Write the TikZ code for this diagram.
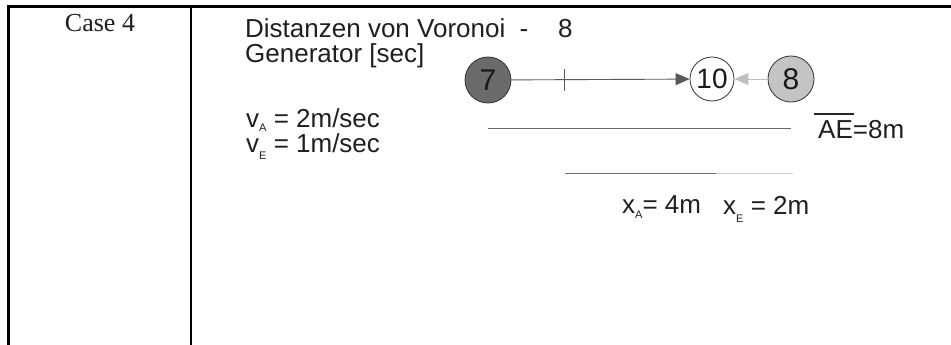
\documentclass[tikz,border=0pt]{standalone}
\usepackage{fontspec}
\setmainfont{Liberation Sans}
\newfontfamily\serifcell{Liberation Serif}
\usetikzlibrary{arrows.meta}
% small lowered index letter as used in v_A, x_E, ...; optional drop depth
\newcommand\lowidx[2][4pt]{\raisebox{-#1}{\fontsize{11}{11}\selectfont #2}}

\begin{document}
\begin{tikzpicture}[x=1pt,y=-1pt,
  txt/.style={inner sep=0pt, text=black!88, font=\fontsize{26}{25}\selectfont},
  gen/.style={circle, draw=black!80, line width=0.8pt, minimum size=46pt,
              inner sep=0pt, text=black!90, font=\fontsize{30}{30}\selectfont},
  conn/.style={draw=black!65, line width=0.9pt},
  rule/.style={line width=2.2pt, black}
]
\useasboundingbox (0,0) rectangle (951,345);

% table frame
\draw[rule] (8.5,345) -- (8.5,6.5) -- (951,6.5);
\draw[rule] (191,6.5) -- (191,345);

% first column
\node[txt, anchor=base, font=\serifcell\fontsize{26}{26}\selectfont] (case) at (100,32) {Case 4};

% second column: headings and speeds
\node[txt, anchor=base west, align=left] (head) at (245,63) {Distanzen von Voronoi\hspace{7pt} -\\Generator [sec]};
\node[txt, anchor=base west] (va) at (246,127) {v\lowidx{A} = 2m/sec};
\node[txt, anchor=base west] (ve) at (246,152) {v\lowidx[7pt]{E} = 1m/sec};
\node[txt, anchor=base west] (mid) at (558,38) {8};

% generators
\node[gen, fill=black!58] (g7) at (488,80) {7};
\node[gen, fill=white, minimum size=44pt, font=\fontsize{28}{28}\selectfont] (g10) at (712,79) {10};
\node[gen, fill=black!23] (g8) at (791,79) {8};

\draw[conn, -{Triangle[length=14pt,width=12pt]}] (g7) -- (g10);
\coordinate (t1) at (564,69);
\coordinate (t2) at (564,91);
\draw[conn] (t1) -- (t2);
\draw[draw=black!25, line width=0.9pt, -{Triangle[length=14pt,width=12pt]}] (g8) -- (g10);

% total distance
\coordinate (ae1) at (488,128);
\coordinate (ae2) at (791,128);
\draw[draw=black!60, line width=1pt] (ae1) -- (ae2);
\node[txt, anchor=base west] (ae) at (818,138) {AE=8m};
\draw[line width=1.2pt, black!85] ([shift={(-4,-24)}]ae.base west) -- ++(40,0);

% split of the distance
\coordinate (s1) at (565,173);
\coordinate (s2) at (716,173);
\coordinate (s3) at (793,173);
\draw[draw=black!55, line width=1pt] (s1) -- (s2);
\draw[draw=black!20, line width=1pt] (s2) -- (s3);

\node[txt, anchor=base west] (xa) at (622,213) {x\lowidx[5pt]{A}= 4m};
\node[txt, anchor=base west] (xe) at (723,214) {x\lowidx[8pt]{E} = 2m};
\end{tikzpicture}
\end{document}
